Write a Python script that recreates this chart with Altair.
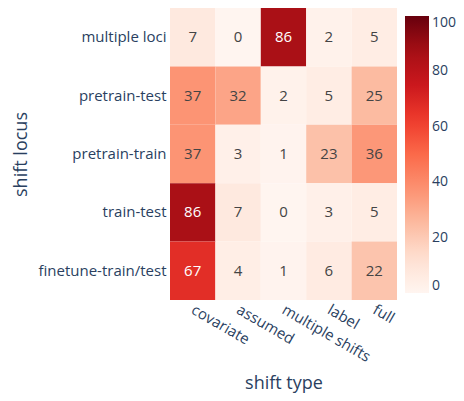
import altair as alt
import pandas as pd

loci = ["multiple loci", "pretrain-test", "pretrain-train", "train-test", "finetune-train/test"]
types = ["covariate", "assumed", "multiple shifts", "label", "full"]
values = [
    [7, 0, 86, 2, 5],
    [37, 32, 2, 5, 25],
    [37, 3, 1, 23, 36],
    [86, 7, 0, 3, 5],
    [67, 4, 1, 6, 22],
]
reds = ["#fff5f0", "#fee0d2", "#fcbba1", "#fc9272", "#fb6a4a",
        "#ef3b2c", "#cb181d", "#a50f15", "#67000d"]
ticks = [0, 20, 40, 60, 80, 100]

rows = []
for i, loc in enumerate(loci):
    for j, t in enumerate(types):
        rows.append({"locus": loc, "type": t, "value": values[i][j]})
df = pd.DataFrame(rows)

FONT = "Open Sans"
AX = "#2a3f5f"
FS = 15

base = alt.Chart(df).encode(
    x=alt.X("type:N", sort=types,
            axis=alt.Axis(title="shift type", labelAngle=30, labelAlign="left",
                          labelBaseline="middle", labelPadding=8, ticks=False,
                          domain=False, labelFontSize=FS, labelColor=AX,
                          labelFont=FONT, titleFont=FONT, titleFontSize=18,
                          titleColor=AX, titleFontWeight="normal",
                          titleY=88, titleBaseline="alphabetic")),
    y=alt.Y("locus:N", sort=loci,
            axis=alt.Axis(title="shift locus", ticks=False, domain=False,
                          labelPadding=4, labelFontSize=FS, labelColor=AX,
                          labelFont=FONT, titleFont=FONT, titleFontSize=18,
                          titleColor=AX, titleFontWeight="normal",
                          titleX=-144, titleBaseline="alphabetic")),
)

rect = base.mark_rect().encode(
    color=alt.Color("value:Q",
                    scale=alt.Scale(domain=[0, 12.5, 25, 37.5, 50, 62.5, 75, 87.5, 100],
                                    range=reds, interpolate="rgb"),
                    legend=alt.Legend(orient="none", legendX=235, legendY=8,
                                      direction="vertical", title=None,
                                      gradientLength=277, gradientThickness=24,
                                      values=ticks, labelFont=FONT,
                                      labelFontSize=14, labelColor=AX,
                                      labelBaseline="middle", labelOverlap=False,
                                      labelOffset=3, gradientStrokeWidth=0))
)

text = base.mark_text(font=FONT, fontSize=FS).encode(
    text="value:Q",
    color=alt.condition(alt.datum.value > 60, alt.value("white"), alt.value("#444444")),
)

chart = (rect + text).properties(
    width=227, height=292,
    autosize=alt.AutoSizeParams(type="none"),
    padding={"left": 162, "top": 0, "right": 59, "bottom": 93},
).configure_view(stroke=None).configure_scale(bandPaddingInner=0, bandPaddingOuter=0)

chart.save("out.html", embed_options={"renderer": "svg", "actions": False})
